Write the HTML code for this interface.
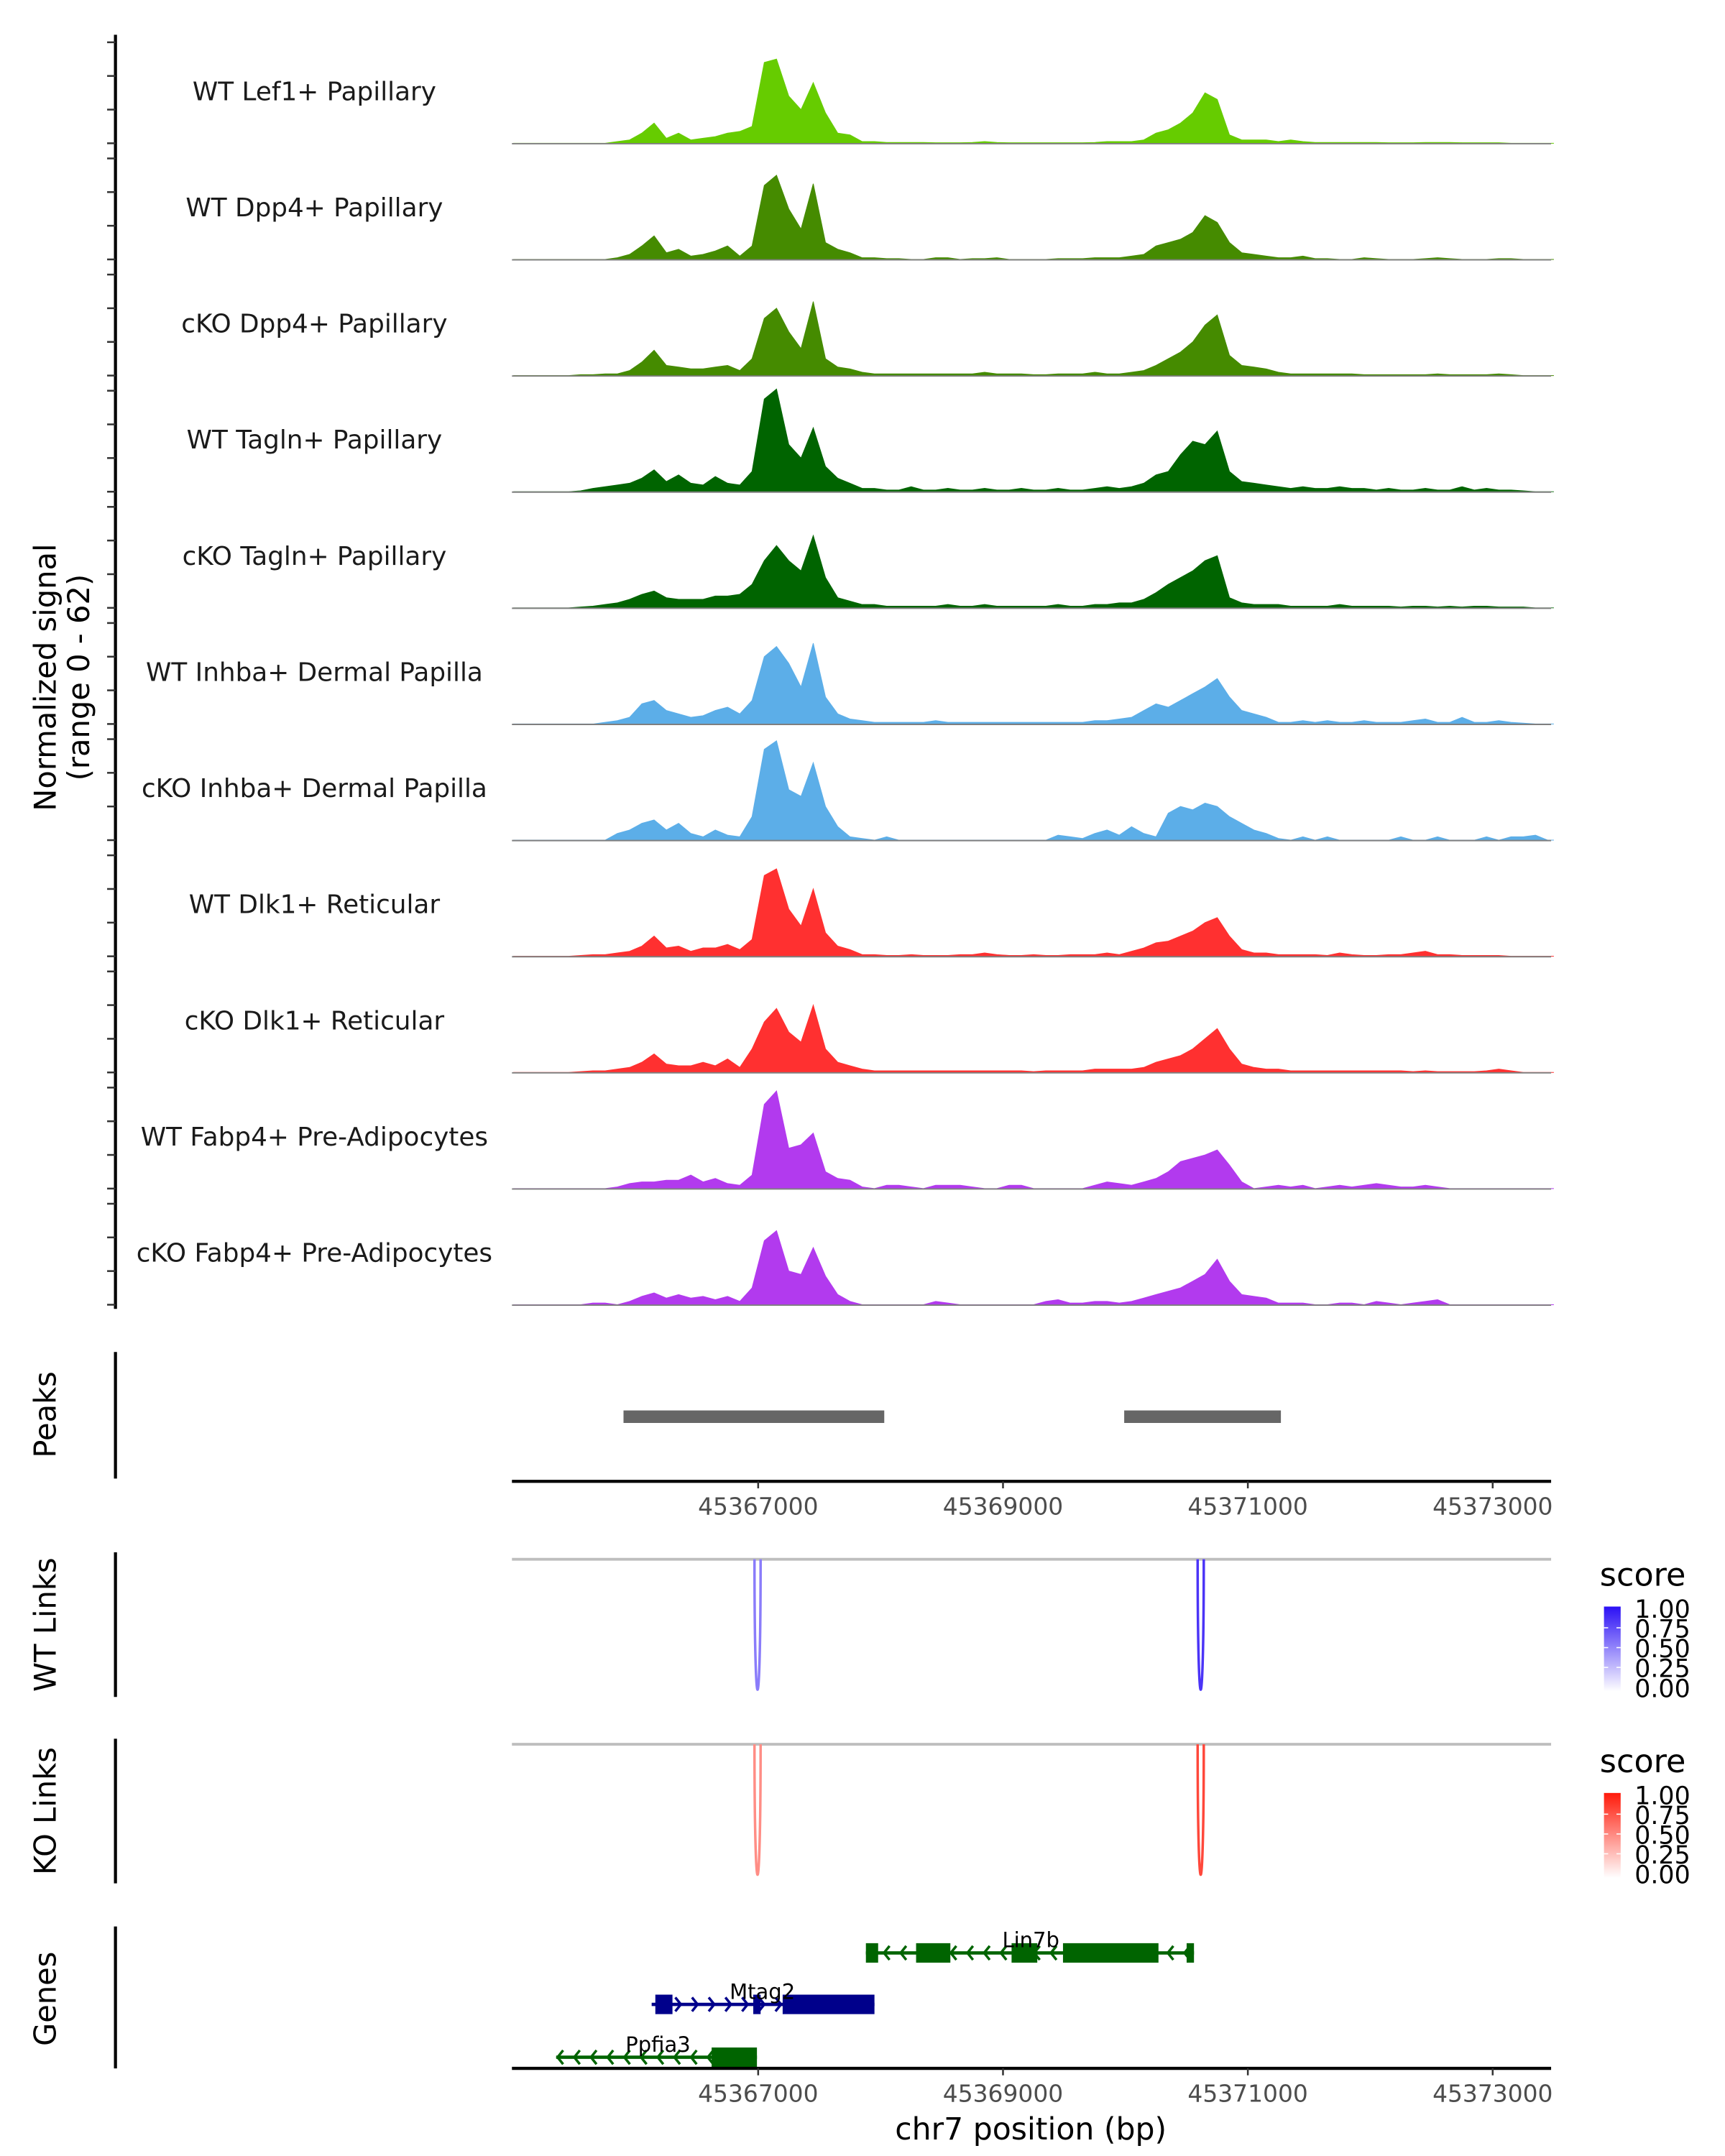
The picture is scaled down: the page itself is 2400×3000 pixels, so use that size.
<!DOCTYPE html>
<html><head><meta charset="utf-8">
<style>
html,body{margin:0;padding:0;background:#fff;}
svg{display:block;font-family:"DejaVu Sans","Liberation Sans",sans-serif;}
</style></head>
<body>
<svg id="chart" xmlns="http://www.w3.org/2000/svg" width="2400" height="3000" viewBox="0 0 1240 1550">
<defs>
<linearGradient id="gBlue" x1="0" y1="1" x2="0" y2="0"><stop offset="0" stop-color="#ffffff"/><stop offset="1" stop-color="#2b10f5"/></linearGradient>
<linearGradient id="gRed" x1="0" y1="1" x2="0" y2="0"><stop offset="0" stop-color="#ffffff"/><stop offset="1" stop-color="#ff1a0a"/></linearGradient>
</defs>
<g id="tracks"></g>
<g id="lower"></g>
</svg>
<script>
// ---- data ----
const binStart = 45365000;
const binSize = 100;
const trackNames = ["WT Lef1+ Papillary","WT Dpp4+ Papillary","cKO Dpp4+ Papillary","WT Tagln+ Papillary","cKO Tagln+ Papillary","WT Inhba+ Dermal Papilla","cKO Inhba+ Dermal Papilla","WT Dlk1+ Reticular","cKO Dlk1+ Reticular","WT Fabp4+ Pre-Adipocytes","cKO Fabp4+ Pre-Adipocytes"];
const trackColors = ["#66cc00","#458b00","#458b00","#006400","#006400","#5caee8","#5caee8","#ff3030","#ff3030","#b23aee","#b23aee"];
const sigLef1WT = [0,0,0,0,0,0,0,0,1,2,6,12,3,6,2,3,4,6,7,10,48,50,28,20,36,18,6,5,1,1,0.5,0.5,0.5,0.5,0.3,0.3,0.3,0.5,1,0.5,0.3,0.3,0.3,0.3,0.3,0.3,0.3,0.5,1,1,1,2,6,8,12,18,30,26,5,2,2,2,1,2,1,0.5,0.5,0.5,0.5,0.5,0.5,0.3,0.3,0.3,0.5,0.5,0.5,0.3,0.3,0.3,0.3,0,0,0,0];
const sigDpp4WT = [0,0,0,0,0,0,0,0,1,3,8,14,4,6,2,3,5,8,2,8,44,50,30,18,45,10,6,4,1,1,0.5,0.5,0,0,1,1,0,0.5,0.5,1,0,0,0,0,0.5,0.5,0.5,1,1,1,2,3,8,10,12,16,26,22,10,4,3,2,1,1,2,0.5,0.5,0,0,1,0.5,0,0,0,0.5,1,0.5,0,0,0,0.5,0.5,0,0,0];
const sigDpp4KO = [0,0,0,0,0,0.5,0.5,1,1,3,8,15,6,5,4,4,5,6,3,10,34,40,26,16,44,10,5,4,2,1,1,1,1,1,1,1,1,1,2,1,1,1,0.5,0.5,1,1,1,2,1,1,2,3,6,10,14,20,30,36,12,6,5,4,2,1,1,1,1,1,1,0.5,0.5,0.5,0.5,0.5,0.5,1,0.5,0.5,0.5,0.5,1,0.5,0,0,0];
const sigTaglnWT = [0,0,0,0,0,0.5,2,3,4,5,8,13,6,10,5,4,9,5,4,12,55,61,28,20,38,15,8,5,2,2,1,1,3,1,1,2,1,1,2,1,1,2,1,1,2,1,1,2,3,2,3,5,10,12,22,30,28,36,12,6,5,4,3,2,3,2,2,3,2,2,1,2,1,1,2,1,1,3,1,2,1,1,0.5,0,0];
const sigTaglnKO = [0,0,0,0,0,0.5,1,2,3,5,8,10,6,5,5,5,7,7,8,14,28,37,28,22,43,18,6,4,2,2,1,1,1,1,1,2,1,1,2,1,1,1,1,1,2,1,1,2,2,3,3,5,9,14,18,22,28,31,6,3,2,2,2,1,1,1,1,2,1,1,1,1,0.5,1,1,0.5,1,0.5,1,1,0.5,0.5,0.5,0,0];
const sigInhbaWT = [0,0,0,0,0,0,0,1,2,4,12,14,8,6,4,5,8,10,6,14,40,46,36,22,48,16,6,3,2,1,1,1,1,1,2,1,1,1,1,1,1,1,1,1,1,1,1,2,2,3,4,8,12,10,14,18,22,27,16,8,6,4,1,1,2,1,2,1,1,2,1,1,1,2,3,1,1,4,1,1,2,1,0.5,0,0];
const sigInhbaKO = [0,0,0,0,0,0,0,0,4,6,10,12,6,10,4,2,6,3,2,14,54,59,30,26,46,20,8,2,1,0,2,0,0,0,0,0,0,0,0,0,0,0,0,0,3,2,1,4,6,3,8,4,2,16,20,18,22,20,14,10,6,4,1,0,2,0,2,0,0,0,0,0,2,0,0,2,0,0,0,2,0,2,2,3,0];
const sigDlk1WT = [0,0,0,0,0,0.5,1,1,2,3,6,12,5,6,3,5,5,7,4,10,48,52,28,18,40,14,6,4,1,1,0.5,0.5,1,0.5,0.5,0.5,1,1,2,1,0.5,0.5,1,0.5,0.5,1,1,1,2,1,3,5,8,9,12,15,20,23,12,4,2,2,1,1,1,1,0.5,2,1,0.5,0.5,1,1,2,3,1,1,0.5,0.5,0.5,0.5,0,0,0,0];
const sigDlk1KO = [0,0,0,0,0,0.5,1,1,2,3,6,11,5,4,4,6,4,8,3,14,30,38,24,18,40,14,6,4,2,1,1,1,1,1,1,1,1,1,1,1,1,1,0.5,1,1,1,1,2,2,2,2,3,6,8,10,14,20,26,14,5,3,2,2,1,1,1,1,1,1,1,1,1,1,0.5,1,0.5,0.5,0.5,0.5,1,2,1,0,0,0];
const sigFabp4WT = [0,0,0,0,0,0,0,0,1,3,4,4,5,5,8,4,6,3,2,8,50,58,24,26,33,10,6,5,1,0,2,2,1,0,2,2,2,1,0,0,2,2,0,0,0,0,0,2,4,3,2,4,6,10,16,18,20,23,14,4,0,1,2,1,2,0,1,2,1,2,3,2,1,1,2,1,0,0,0,0,0,0,0,0,0];
const sigFabp4KO = [0,0,0,0,0,0,1,1,0,2,5,7,4,6,4,5,3,5,2,10,38,44,20,18,34,17,6,2,0,0,0,0,0,0,2,1,0,0,0,0,0,0,0,2,3,1,1,2,2,1,2,4,6,8,10,14,18,27,14,6,5,4,1,1,1,0,0,1,1,0,2,1,0,1,2,3,0,0,0,0,0,0,0,0,0];
const signals = [sigLef1WT,sigDpp4WT,sigDpp4KO,sigTaglnWT,sigTaglnKO,sigInhbaWT,sigInhbaKO,sigDlk1WT,sigDlk1KO,sigFabp4WT,sigFabp4KO];
const yTickValues = [0,20,40,60];
const xTickValues = [45367000,45369000,45371000,45373000];
const peakStarts = [45365900,45367000+1030];
const peakEnds = [45368030,45371270];
peakStarts[1] = 45369990;
const wtLinkStarts = [45366970,45370590];
const wtLinkEnds = [45367020,45370640];
const wtLinkScores = [0.55,0.85];
const koLinkStarts = [45366970,45370590];
const koLinkEnds = [45367020,45370640];
const koLinkScores = [0.5,0.8];
const legendTicks = ["1.00","0.75","0.50","0.25","0.00"];
const geneNames = ["Lin7b","Mtag2","Ppfia3"];
const geneStarts = [45367880,45366130,45365350];
const geneEnds = [45370560,45367950,45366990];
const geneStrands = [-1,1,-1];
const lin7bExons = [[45367880,45367980],[45368290,45368570],[45369070,45369280],[45369490,45370270],[45370500,45370560]];
const mtag2Exons = [[45366160,45366300],[45366960,45367020],[45367200,45367950]];
const ppfia3Exons = [[45366620,45366990]];

// ---- scales ----
const X0 = 545, PXBP = 0.088;
function xs(bp){ return X0 + (bp-45367000)*PXBP; }
const PXU = 1.21;
function base(k){ return 103 + k*83.5; }
function ys(k,v){ return base(k) - v*PXU; }

const NS = "http://www.w3.org/2000/svg";
function mk(tag, attrs, parent, text){
  const e = document.createElementNS(NS, tag);
  for (const k in attrs) e.setAttribute(k, attrs[k]);
  if (text !== undefined) e.textContent = text;
  parent.appendChild(e);
  return e;
}
const T = document.getElementById('tracks');
const L = document.getElementById('lower');

// signal axis
let ax = mk('line',{x1:83,y1:25,x2:83,y2:941,stroke:'#000','stroke-width':2.2},T);


let yt = mk('text',{x:0,y:0,'font-size':21.5,'text-anchor':'middle',transform:'translate(40,487) rotate(-90)'},T,'Normalized signal');


let yt2 = mk('text',{x:0,y:0,'font-size':21.5,'text-anchor':'middle',transform:'translate(64,487) rotate(-90)'},T,'(range 0 - 62)');



for (let k=0;k<signals.length;k++){
  const g = mk('g',{},T);
  
  
  for (const v of yTickValues){
    const t = mk('line',{x1:77,x2:83,y1:ys(k,v),y2:ys(k,v),stroke:'#333','stroke-width':1.3},g);
    
    
  }
  const data = signals[k];
  let pts = [[xs(binStart), base(k)]];
  for (let i=0;i<data.length;i++){
    pts.push([xs(binStart + (i+0.5)*binSize), ys(k,data[i])]);
  }
  pts.push([xs(binStart + data.length*binSize), base(k)]);
  const area = mk('polygon',{points:pts.map(p=>p[0].toFixed(1)+','+p[1].toFixed(1)).join(' '),fill:trackColors[k],stroke:trackColors[k],'stroke-width':0.5},g);
  
  
  const bl = mk('line',{x1:368,x2:1115,y1:base(k)+0.3,y2:base(k)+0.3,stroke:'#7f7f7f','stroke-width':1},g);
  
  
  const lab = mk('text',{x:226,y:base(k)-31,'font-size':18.5,'text-anchor':'middle',fill:'#1a1a1a'},g,trackNames[k]);
  
  
}

// helpers for x axis
function xAxis(y, parent, name){
  const g = mk('g',{},parent);
  
  
  mk('line',{x1:368,x2:1115,y1:y,y2:y,stroke:'#000','stroke-width':2.2},g);
  for (const v of xTickValues){
    const t = mk('line',{x1:xs(v),x2:xs(v),y1:y,y2:y+5,stroke:'#333','stroke-width':1.3},g);
    
    
    const tl = mk('text',{x:xs(v),y:y+24,'font-size':17,'text-anchor':'middle',fill:'#4d4d4d'},g,String(v));
    
    
  }
}
function panelTitle(text, cy, name, y1, y2){
  const t = mk('text',{x:0,y:0,'font-size':21.5,'text-anchor':'middle',transform:'translate(40,'+cy+') rotate(-90)'},L,text);
  
  
  const a = mk('line',{x1:83,x2:83,y1:y1,y2:y2,stroke:'#000','stroke-width':2.2},L);
  
  
}

// Peaks
panelTitle('Peaks',1017,'peaks-title',972,1063);
for (let i=0;i<peakStarts.length;i++){
  const r = mk('rect',{x:xs(peakStarts[i]),y:1014,width:xs(peakEnds[i])-xs(peakStarts[i]),height:9,fill:'#666666'},L);
  
  
}
xAxis(1065,L,'peaks-x-axis');

// Links
function interp(c1,c2,t){ return 'rgb('+c1.map((c,i)=>Math.round(c+(c2[i]-c)*t)).join(',')+')'; }
function links(y0, depth, starts, ends, scores, hi, name){
  const gl = mk('line',{x1:368,x2:1115,y1:y0,y2:y0,stroke:'#bebebe','stroke-width':2},L);
  
  
  for (let i=0;i<starts.length;i++){
    const a = xs(starts[i]), b = xs(ends[i]);
    const col = interp([255,255,255],hi,scores[i]);
    const p = mk('path',{d:'M'+a+','+y0+' C'+a+','+(y0+depth*1.33)+' '+b+','+(y0+depth*1.33)+' '+b+','+y0,fill:'none',stroke:col,'stroke-width':1.8},L);
    
    
  }
}
panelTitle('WT Links',1168,'wt-links-title',1116,1220);
links(1121,94,wtLinkStarts,wtLinkEnds,wtLinkScores,[43,16,245],'wt-link');
panelTitle('KO Links',1302,'ko-links-title',1250,1354);
links(1254,94,koLinkStarts,koLinkEnds,koLinkScores,[255,26,10],'ko-link');

// legends
function legend(y, grad, name){
  const g = mk('g',{},L);
  
  
  mk('text',{x:1150,y:y,'font-size':23},g,'score');
  const bt = y+15, bh = 61;
  mk('rect',{x:1153,y:bt,width:12,height:bh,fill:'url(#'+grad+')'},g);
  for (let i=0;i<legendTicks.length;i++){
    const yy = bt + 1 + i*(bh-4)/4;
    if (i>0 && i<4){ mk('line',{x1:1153,x2:1156,y1:yy,y2:yy,stroke:'#fff','stroke-width':0.8},g); mk('line',{x1:1162,x2:1165,y1:yy,y2:yy,stroke:'#fff','stroke-width':0.8},g); }
    const tl = mk('text',{x:1175,y:yy+7,'font-size':18},g,legendTicks[i]);
    
    
  }
}
legend(1140,'gBlue','wt-score-legend');
legend(1274,'gRed','ko-score-legend');

// Genes
panelTitle('Genes',1437,'genes-title',1385,1487);
const geneY = [1404,1441,1479];
const geneColors = ['#006400','#00008b','#006400'];
const geneExons = [lin7bExons,mtag2Exons,ppfia3Exons];
const labelOffsets = [[741,1400],[548,1437],[473,1475]];
for (let i=0;i<geneNames.length;i++){
  const g = mk('g',{},L);
  
  
  const y = geneY[i], c = geneColors[i];
  const a = xs(geneStarts[i]), b = xs(geneEnds[i]);
  mk('line',{x1:a,x2:b,y1:y,y2:y,stroke:c,'stroke-width':2.4},g);
  const step = 12;
  for (let x=a+5;x<b-2;x+=step){
    const d = geneStrands[i];
    mk('polyline',{points:(x)+','+(y-5)+' '+(x+4*d)+','+y+' '+(x)+','+(y+5),fill:'none',stroke:c,'stroke-width':1.8},g);
  }
  for (const e of geneExons[i]){
    const r = mk('rect',{x:xs(e[0]),y:y-7,width:xs(e[1])-xs(e[0]),height:14,fill:c},g);
    
    
  }
  const gl = mk('text',{x:labelOffsets[i][0],y:labelOffsets[i][1],'font-size':15,'text-anchor':'middle',fill:'#000'},g,geneNames[i]);
  
  
}
xAxis(1487,L,'genes-x-axis');
const xt = mk('text',{x:741,y:1538,'font-size':22,'text-anchor':'middle'},L,'chr7 position (bp)');


</script>
</body></html>
